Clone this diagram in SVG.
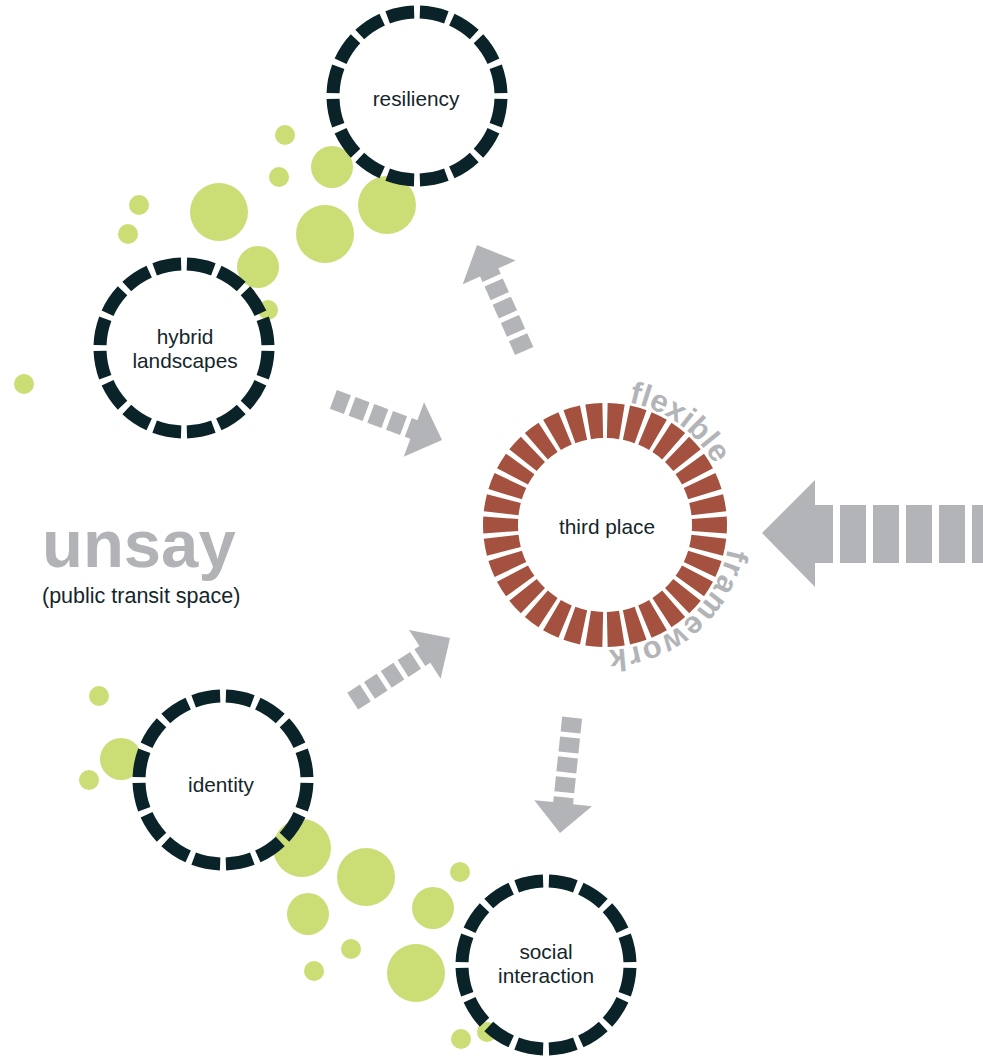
<svg xmlns="http://www.w3.org/2000/svg" xmlns:xlink="http://www.w3.org/1999/xlink" width="983" height="1057" viewBox="0 0 983 1057">
<style>
.dot{fill:#cbdd75}
.ring{fill:none;stroke:#0a2328;stroke-width:13}
.lbl{font-family:"Liberation Sans",Arial,sans-serif;font-size:20.8px;fill:#14262a;text-anchor:middle}
.arr{fill:#b3b4b8}
.curve{font-family:"Liberation Sans",Arial,sans-serif;font-weight:bold;font-size:31px;fill:#b3b4b8}
</style>
<defs>
<g id="sa">
<polygon points="0,0 -30,-29 -30,-10 -36,-10 -36,10 -30,10 -30,29"/>
<rect x="-56" y="-10" width="15" height="20"/>
<rect x="-76" y="-10" width="15" height="20"/>
<rect x="-96" y="-10" width="15" height="20"/>
<rect x="-116" y="-10" width="15" height="20"/>
</g>
<path id="tp" d="M605,400 A125,125 0 1,1 605,650 A125,125 0 1,1 605,400"/>
</defs>
<rect width="983" height="1057" fill="#ffffff"/>
<g id="dots">
<circle class="dot" cx="285" cy="135" r="10"/>
<circle class="dot" cx="332" cy="167" r="21"/>
<circle class="dot" cx="279" cy="177" r="10"/>
<circle class="dot" cx="139" cy="205" r="10"/>
<circle class="dot" cx="219" cy="212" r="29"/>
<circle class="dot" cx="387" cy="205" r="29"/>
<circle class="dot" cx="325" cy="234" r="29"/>
<circle class="dot" cx="128" cy="234" r="10"/>
<circle class="dot" cx="258" cy="267" r="21"/>
<circle class="dot" cx="268" cy="310" r="10"/>
<circle class="dot" cx="24" cy="384" r="10"/>
<circle class="dot" cx="99" cy="696" r="10"/>
<circle class="dot" cx="121" cy="759" r="21"/>
<circle class="dot" cx="89" cy="780" r="10"/>
<circle class="dot" cx="302" cy="848" r="29"/>
<circle class="dot" cx="366" cy="877" r="29"/>
<circle class="dot" cx="460" cy="872" r="10"/>
<circle class="dot" cx="308" cy="914" r="21"/>
<circle class="dot" cx="433" cy="908" r="21"/>
<circle class="dot" cx="351" cy="949" r="10"/>
<circle class="dot" cx="416" cy="973" r="29"/>
<circle class="dot" cx="314" cy="971" r="10"/>
<circle class="dot" cx="461" cy="1039" r="10"/>
<circle class="dot" cx="487" cy="1032" r="10"/>
</g>
<g id="connectors" class="arr">
<use xlink:href="#sa" transform="translate(442,440) rotate(20.5)"/>
<use xlink:href="#sa" transform="translate(477,245) rotate(-114)"/>
<use xlink:href="#sa" transform="translate(450,638) rotate(-33)"/>
<use xlink:href="#sa" transform="translate(560,833) rotate(96)"/>
<g id="big-arrow">
<polygon points="762,533 815,480 815,505 833,505 833,563 815,563 815,587"/>
<rect x="840" y="505" width="26" height="58"/>
<rect x="873" y="505" width="26" height="58"/>
<rect x="906" y="505" width="26" height="58"/>
<rect x="939" y="505" width="26" height="58"/>
<rect x="972" y="505" width="26" height="58"/>
</g>
</g>
<g id="resiliency">
<circle class="ring" cx="417" cy="96" r="84" pathLength="160" stroke-dasharray="8.2 1.8" stroke-dashoffset="9.1"/>
<text class="lbl" x="416" y="106">resiliency</text>
</g>
<g id="hybrid-landscapes">
<circle class="ring" cx="184" cy="348" r="84" pathLength="160" stroke-dasharray="8.2 1.8" stroke-dashoffset="9.1"/>
<text class="lbl" x="185" y="344">hybrid</text>
<text class="lbl" x="185" y="368">landscapes</text>
</g>
<g id="identity">
<circle class="ring" cx="223" cy="780" r="84" pathLength="160" stroke-dasharray="8.2 1.8" stroke-dashoffset="9.1"/>
<text class="lbl" x="221" y="792">identity</text>
</g>
<g id="social-interaction">
<circle class="ring" cx="546" cy="965" r="84" pathLength="160" stroke-dasharray="8.2 1.8" stroke-dashoffset="9.1"/>
<text class="lbl" x="546" y="959">social</text>
<text class="lbl" x="546" y="983">interaction</text>
</g>
<g id="third-place">
<circle cx="605" cy="525" r="104.5" fill="none" stroke="#a4523f" stroke-width="35" pathLength="340" stroke-dasharray="7.6 2.4" stroke-dashoffset="3.8"/>
<text class="lbl" x="607" y="534">third place</text>
<text class="curve" letter-spacing="0.3"><textPath xlink:href="#tp" startOffset="24">flexible</textPath></text>
<text class="curve" letter-spacing="1.5"><textPath xlink:href="#tp" startOffset="220">framework</textPath></text>
</g>
<g id="unsay">
<text x="42" y="567" font-family="'Liberation Sans',Arial,sans-serif" font-weight="bold" font-size="67" fill="#b2b3b7">unsay</text>
<text x="42" y="603" font-family="'Liberation Sans',Arial,sans-serif" font-size="21.5" fill="#14262a">(public transit space)</text>
</g>
</svg>
